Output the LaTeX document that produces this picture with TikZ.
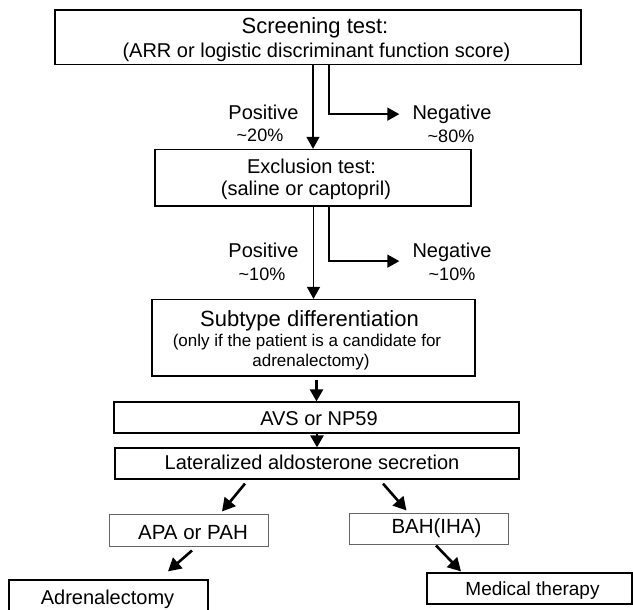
\documentclass[tikz,border=0pt]{standalone}
\usepackage{fontspec}
\setmainfont{Liberation Sans}
\usetikzlibrary{arrows.meta}
\definecolor{boxline}{gray}{0.40}

\newcommand{\fsbig}{\fontsize{22}{25}\selectfont}
\newcommand{\fsmain}{\fontsize{20}{24}\selectfont}
\newcommand{\fssmall}{\fontsize{17}{19}\selectfont}
\newcommand{\fspct}{\fontsize{18}{21}\selectfont}

\tikzset{
	stepbox/.style={draw=black, line width=1.2pt, inner sep=0pt},
	txt/.style={anchor=base, inner sep=1pt, font=\fsmain},
	arr/.style={-{Triangle[length=12pt,width=13pt]}, line width=1.5pt},
	diagarr/.style={-{Triangle[length=13pt,width=14pt]}, line width=2.6pt}
}

\begin{document}
\begin{tikzpicture}[x=1pt, y=-1pt]
	\clip (0,0) rectangle (633,610);

	% --- Screening ---
	\node[stepbox, line width=1.5pt, minimum width=526pt, minimum height=54.5pt] (screen) at (318,37.25) {};
	\node[txt, font=\fsbig] (screen-t1) at (315,33.3) {Screening test:};
	\node[txt] (screen-t2) at (316.5,57.3) {(ARR or logistic discriminant function score)};

	\node[txt] (pos1) at (263.5,119.3) {Positive};
	\node[txt, font=\fspct] (pos1p) at (260,141.7) {\textasciitilde 20\%};
	\node[txt] (neg1) at (452,119.3) {Negative};
	\node[txt, font=\fspct] (neg1p) at (451,142.5) {\textasciitilde 80\%};

	% --- Exclusion ---
	\node[stepbox, line width=1.4pt, minimum width=316pt, minimum height=56.5pt] (excl) at (313,177.75) {};
	\node[txt] (excl-t1) at (311.5,174) {Exclusion test:};
	\node[txt] (excl-t2) at (306,196) {(saline or captopril)};

	\draw[arr] (screen.south -| excl.north) -- (excl.north);
	\draw[arr, shorten >=12pt] ([xshift=11pt]screen.south) |- (neg1.west);

	\node[txt] (pos2) at (263.5,257.3) {Positive};
	\node[txt, font=\fspct] (pos2p) at (262,280.7) {\textasciitilde 10\%};
	\node[txt] (neg2) at (452,257.3) {Negative};
	\node[txt, font=\fspct] (neg2p) at (452,280.7) {\textasciitilde 10\%};

	% --- Subtype ---
	\node[stepbox, minimum width=323pt, minimum height=76.5pt] (subtype) at (313.5,337.75) {};
	\node[txt, font=\fsbig] (subtype-t1) at (309.5,326) {Subtype differentiation};
	\node[txt, font=\fssmall] (subtype-t2) at (307,346.7) {(only if the patient is a candidate for};
	\node[txt, font=\fssmall] (subtype-t3) at (311,366) {adrenalectomy)};

	\draw[arr] (excl.south -| subtype.north) -- (subtype.north);
	\draw[arr, shorten >=12pt] ([xshift=16pt]excl.south) |- ([yshift=-9pt]neg2.west);

	% --- AVS and lateralization ---
	\node[stepbox, minimum width=405pt, minimum height=31pt] (avs) at (316.5,417.5) {};
	\node[txt] (avs-t) at (319,425) {AVS or NP59};
	\node[stepbox, minimum width=404pt, minimum height=31pt] (later) at (317,463.5) {};
	\node[txt] (later-t) at (312,469.3) {Lateralized aldosterone secretion};

	\draw[arr, line width=2.5pt, shorten <=3pt] (subtype.south -| avs.north) -- (avs.north);
	\draw[arr, line width=2.5pt] (avs.south -| later.north) -- (later.north);

	% --- Outcomes ---
	\node[stepbox, draw=boxline, line width=1pt, minimum width=159pt, minimum height=32pt] (apa) at (188.5,530) {};
	\node[txt, font=\fontsize{20.5}{24}\selectfont] (apa-t) at (193,539.3) {APA or PAH};
	\node[stepbox, draw=boxline, line width=1pt, minimum width=159pt, minimum height=31pt] (bah) at (428.5,528.5) {};
	\node[txt, font=\fontsize{20.5}{24}\selectfont] (bah-t) at (436.5,533.3) {BAH(IHA)};
	\node[stepbox, minimum width=199pt, minimum height=36pt] (adren) at (108.5,598) {};
	\node[txt] (adren-t) at (107.5,604) {Adrenalectomy};
	\node[stepbox, minimum width=205pt, minimum height=31pt] (med) at (529.5,588.5) {};
	\node[txt, font=\fontsize{19}{22}\selectfont] (med-t) at (532.5,595) {Medical therapy};

	\draw[diagarr] ([xshift=-72pt, yshift=-4pt]later.south) -- ([xshift=33.5pt, yshift=2pt]apa.north);
	\draw[diagarr] ([xshift=66pt, yshift=-4pt]later.south) -- ([xshift=-22pt, yshift=2pt]bah.north);
	\draw[diagarr] ([xshift=3.5pt, yshift=-4pt]apa.south) -- ([xshift=59.5pt, yshift=1pt]med.north -| adren.north);
	\draw[diagarr] ([xshift=7.5pt, yshift=-1pt]bah.south) -- ([xshift=-68.5pt, yshift=1pt]med.north);
\end{tikzpicture}
\end{document}
